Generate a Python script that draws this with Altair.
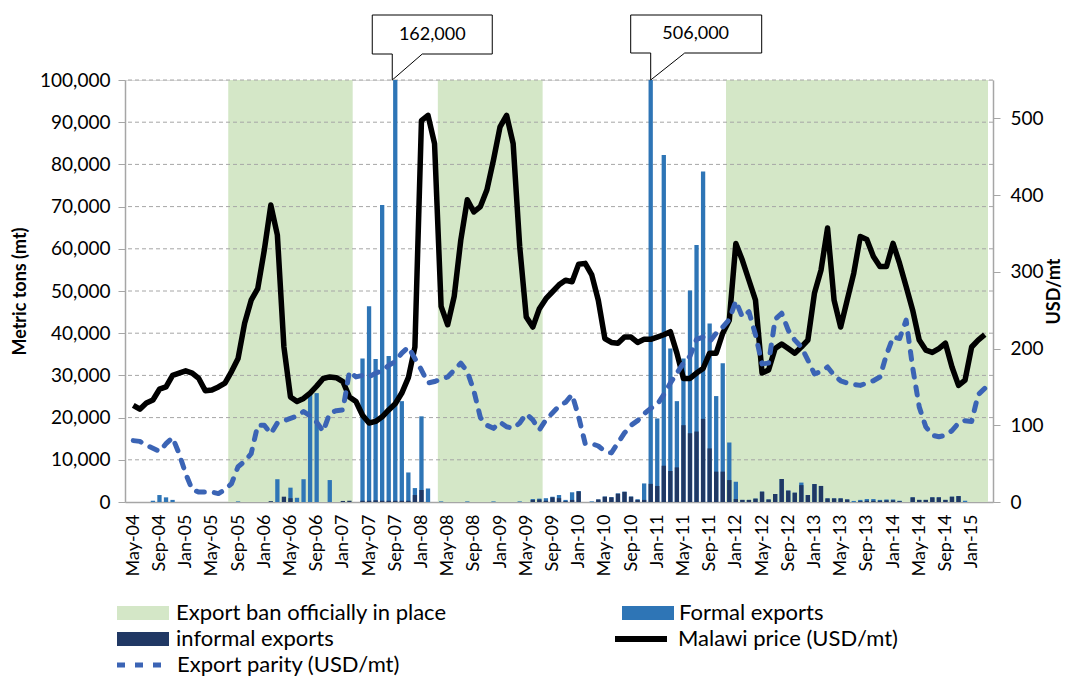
import json
import altair as alt
import pandas as pd

FONT = "Lato"
AX = "#A6A6A6"
GREEN = "#D4E7C7"
BLUE = "#2E75B6"
NAVY = "#203864"
PAR = "#3B64B5"

# ---------------- data ----------------
months = pd.date_range("2004-05-01", periods=131, freq="MS").strftime("%b-%y").tolist()

tick_labels = ["May-04", "Sep-04", "Jan-05", "May-05", "Sep-05", "Jan-06", "May-06", "Sep-06",
               "Jan-07", "May-07", "Sep-07", "Jan-08", "May-08", "Sep-08", "Jan-09", "May-09",
               "Sep-09", "Jan-10", "May-10", "Sep-10", "Jan-11", "May-11", "Sep-11", "Jan-12",
               "May-12", "Sep-12", "Jan-13", "May-13", "Sep-13", "Jan-14", "May-14", "Sep-14",
               "Jan-15"]

ban_start = ["Aug-05", "Apr-08", "Dec-11"]
ban_end = ["Feb-07", "Jul-09", "Mar-15"]

formal = [0, 0, 0, 300, 1650, 1100, 500, 0, 0, 0,
          0, 0, 0, 0, 0, 0, 150, 0, 0, 0,
          0, 0, 5400, 0, 3400, 1000, 5400, 25800, 25800, 0,
          5200, 0, 0, 0, 0, 34000, 46400, 33900, 70400, 34600,
          162000, 23900, 7000, 3300, 20300, 3200, 0, 150, 0, 0,
          0, 150, 0, 0, 0, 150, 0, 0, 0, 150,
          0, 700, 800, 900, 1250, 1650, 500, 2300, 2600, 0,
          150, 600, 1300, 1150, 2050, 2450, 1300, 650, 4400, 506000,
          19800, 82200, 36400, 23900, 34000, 50100, 60900, 78300, 42300, 25100,
          32900, 14100, 4800, 500, 500, 800, 2450, 600, 1900, 5450,
          2700, 2200, 4600, 1650, 4250, 3800, 850, 850, 850, 600,
          250, 500, 700, 700, 500, 600, 600, 300, 0, 1100,
          500, 500, 1100, 1100, 500, 1250, 1400, 300, 0, 0,
          0]

informal = [0, 0, 0, 0, 0, 0, 0, 0, 0, 0,
            0, 0, 0, 0, 0, 0, 0, 0, 0, 0,
            0, 200, 0, 1260, 900, 0, 0, 0, 0, 0,
            0, 0, 250, 300, 0, 300, 300, 400, 300, 300,
            300, 300, 300, 1650, 2850, 0, 0, 0, 0, 0,
            0, 0, 0, 0, 0, 0, 0, 0, 0, 0,
            0, 500, 600, 300, 1100, 900, 200, 500, 2500, 0,
            0, 600, 1250, 1100, 1950, 2400, 1250, 500, 500, 4300,
            3800, 8600, 7350, 8200, 18200, 16300, 16700, 19700, 12700, 7200,
            7200, 5200, 700, 500, 500, 800, 2450, 600, 1900, 5450,
            2700, 2200, 4000, 1650, 4250, 3800, 850, 850, 850, 600,
            0, 200, 300, 300, 300, 400, 400, 200, 0, 1100,
            500, 500, 1100, 1100, 500, 1250, 1400, 0, 0, 0,
            0]

price = [126, 121, 129, 133, 147, 150, 165, 168, 171, 168,
         161, 145, 146, 150, 155, 170, 187, 233, 263, 278,
         328, 387, 348, 202, 137, 131, 135, 142, 151, 161,
         163, 162, 157, 137, 131, 113, 103, 105, 111, 120,
         128, 142, 162, 202, 497, 504, 467, 255, 231, 268,
         341, 394, 378, 385, 407, 446, 489, 504, 467, 333,
         241, 228, 252, 265, 274, 283, 289, 287, 310, 311,
         296, 263, 213, 208, 207, 215, 215, 208, 212, 212,
         215, 218, 222, 194, 161, 161, 168, 174, 194, 194,
         220, 237, 337, 315, 289, 263, 168, 172, 200, 206,
         200, 194, 202, 211, 272, 302, 357, 263, 228, 263,
         298, 346, 342, 320, 307, 307, 337, 311, 281, 250,
         211, 198, 195, 200, 207, 176, 152, 159, 202, 211,
         218]

parity = [80, 79, 74, 70, 66, 76, 84, 63, 37, 16,
          13, 13, 13, 11, 16, 24, 46, 53, 63, 100,
          100, 89, 103, 106, 109, 112, 118, 112, 104, 92,
          116, 119, 120, 170, 163, 165, 163, 168, 171, 178,
          183, 194, 202, 187, 172, 155, 157, 160, 163, 172,
          181, 170, 145, 110, 100, 96, 104, 98, 96, 103,
          115, 107, 94, 107, 116, 125, 130, 140, 111, 76,
          76, 73, 66, 64, 77, 90, 100, 106, 115, 122,
          127, 140, 155, 168, 181, 190, 212, 215, 209, 220,
          228, 238, 262, 241, 248, 218, 180, 181, 238, 246,
          224, 211, 202, 185, 167, 170, 176, 165, 158, 155,
          153, 152, 155, 158, 163, 192, 215, 213, 237, 175,
          124, 98, 87, 85, 87, 93, 103, 106, 105, 140,
          148]

callout_idx = [40, 79]
callout_val = [162000, 506000]
callout_txt = ["162,000", "506,000"]

grid_vals = list(range(10000, 100001, 10000))

S_BAN = "Export ban officially in place"
S_FORMAL = "Formal exports"
S_INFORMAL = "informal exports"
S_PRICE = "Malawi price (USD/mt)"
S_PARITY = "Export parity (USD/mt)"

# ---------------- tables ----------------
df = pd.DataFrame({"idx": list(range(len(months))), "month": months,
                   "formal": formal, "informal": informal,
                   "price": price, "parity": parity})
bands = pd.DataFrame({"x0": [months.index(s) - 0.5 for s in ban_start],
                      "x1": [months.index(e) + 0.5 for e in ban_end],
                      "top": [100000] * 3, "bottom": [0] * 3,
                      "series": [S_BAN] * 3})
grid = pd.DataFrame({"g": grid_vals})
callouts = pd.DataFrame({"idx": callout_idx, "val": callout_val, "txt": callout_txt})

# ---------------- scales / axes ----------------
xsc = alt.Scale(domain=[-0.5, 130.5], nice=False, zero=False)
xaxis = alt.Axis(values=list(range(0, 129, 4)),
                 labelExpr=json.dumps(tick_labels) + "[round(datum.value/4)]",
                 labelAngle=-90, labelFont=FONT, labelFontSize=18, labelColor="black",
                 labelPadding=12, ticks=False, domainColor=AX, domainWidth=1.5, grid=False,
                 labelOverlap=False, labelFlush=False, title=None)
ylsc = alt.Scale(domain=[0, 100000], nice=False, zero=True, clamp=True)
ylaxis = alt.Axis(orient="left", values=list(range(0, 100001, 10000)), format=",d",
                  labelFont=FONT, labelFontSize=19, labelColor="black", labelPadding=8,
                  tickSize=7, tickColor=AX, domainColor=AX, domainWidth=1.5, grid=False,
                  title="Metric tons (mt)", titleFont=FONT, titleFontSize=18,
                  titleFontWeight="bold", titleColor="black", titlePadding=10)
yrsc = alt.Scale(domain=[0, 550], nice=False, zero=True)
yraxis = alt.Axis(orient="right", values=[0, 100, 200, 300, 400, 500],
                  labelFont=FONT, labelFontSize=19, labelColor="black", labelPadding=10,
                  tickSize=7, tickColor=AX, domainColor=AX, domainWidth=1.5, grid=False,
                  title="USD/mt", titleAngle=270, titleBaseline="top", titleFont=FONT,
                  titleFontSize=18, titleFontWeight="bold", titleColor="black",
                  titlePadding=2)


def XE(f):
    return alt.X(f, type="quantitative", scale=xsc, axis=xaxis)


def YL(f):
    return alt.Y(f, type="quantitative", scale=ylsc, axis=ylaxis, stack=None)


def YR(f):
    return alt.Y(f, type="quantitative", scale=yrsc, axis=yraxis)


# legend symbols: size 196 -> unit = 7px, so a 52x14 swatch / 52px line
RECT = "M-3.714,-1H3.714V1H-3.714Z"
LINE = "M-3.714,0H3.714"
leg_common = dict(orient="none", title=None, labelFont=FONT, labelFontSize=22,
                  labelColor="black", labelLimit=500, padding=0,
                  rowPadding=4, direction="vertical", symbolSize=196)

fill_legend = alt.Legend(legendX=7, legendY=522, symbolType=RECT, labelOffset=22,
                         symbolStrokeWidth=0, symbolOpacity=1, **leg_common)
color_legend = alt.Legend(legendX=512, legendY=522, symbolType=RECT, labelOffset=20,
                          symbolStrokeWidth=0, symbolOpacity=1, **leg_common)
stroke_legend = alt.Legend(legendX=505, legendY=548, symbolType=LINE, labelOffset=26,
                           symbolStrokeWidth=6, symbolStrokeColor="black", **leg_common)
dash_legend = alt.Legend(legendX=7, legendY=574, symbolType=LINE, labelOffset=23,
                         symbolStrokeWidth=5, symbolStrokeColor=PAR, **leg_common)

fillsc = alt.Scale(domain=[S_BAN, S_INFORMAL], range=[GREEN, NAVY])
colorsc = alt.Scale(domain=[S_FORMAL], range=[BLUE])
strokesc = alt.Scale(domain=[S_PRICE], range=["black"])
dashsc = alt.Scale(domain=[S_PARITY], range=[[8, 10]])

# ---------------- layers ----------------
ban_layer = alt.Chart(bands).mark_rect().encode(
    x=XE("x0"), x2="x1", y=YL("top"), y2="bottom",
    fill=alt.Fill("series:N", scale=fillsc, legend=fill_legend))

grid_layer = alt.Chart(grid).mark_rule(color=AX, strokeDash=[4, 3], strokeWidth=1).encode(
    y=YL("g"))

formal_layer = alt.Chart(df).transform_calculate(series=f"'{S_FORMAL}'").mark_bar(
    size=4.3, orient="vertical").encode(
    x=XE("idx"), y=YL("formal"),
    color=alt.Color("series:N", scale=colorsc, legend=color_legend))

informal_layer = alt.Chart(df).transform_calculate(series=f"'{S_INFORMAL}'").mark_bar(
    size=4.3, orient="vertical").encode(
    x=XE("idx"), y=YL("informal"),
    fill=alt.Fill("series:N", scale=fillsc, legend=fill_legend))

BOX1 = "M-23,-65H97V-26H27L-3,0V-26H-23Z"
BOX2 = "M-20,-65H111V-27H34L0,0V-27H-20Z"
callout_box = alt.Chart(callouts).mark_point(
    size=4, filled=True, fill="white", stroke="black",
    strokeWidth=1, opacity=1).encode(
    x=XE("idx"), y=YL("val"),
    shape=alt.Shape("txt:N", scale=alt.Scale(domain=callout_txt, range=[BOX1, BOX2]),
                    legend=None))
callout_label1 = alt.Chart(callouts).transform_filter(
    alt.datum.idx == callout_idx[0]).mark_text(
    dx=37, dy=-45, align="center", baseline="middle", font=FONT, fontSize=18,
    color="black").encode(x=XE("idx"), y=YL("val"), text="txt:N")
callout_label2 = alt.Chart(callouts).transform_filter(
    alt.datum.idx == callout_idx[1]).mark_text(
    dx=45, dy=-46, align="center", baseline="middle", font=FONT, fontSize=18,
    color="black").encode(x=XE("idx"), y=YL("val"), text="txt:N")

price_layer = alt.Chart(df).transform_calculate(series=f"'{S_PRICE}'").mark_line(
    strokeWidth=5.5, strokeJoin="round").encode(
    x=XE("idx"), y=YR("price"),
    stroke=alt.Stroke("series:N", scale=strokesc, legend=stroke_legend))

parity_layer = alt.Chart(df).transform_calculate(series=f"'{S_PARITY}'").mark_line(
    stroke=PAR, strokeWidth=5, strokeCap="round", strokeJoin="round").encode(
    x=XE("idx"), y=YR("parity"),
    strokeDash=alt.StrokeDash("series:N", scale=dashsc, legend=dash_legend))

left = alt.layer(ban_layer, grid_layer, formal_layer, informal_layer,
                 callout_box, callout_label1, callout_label2)
right = alt.layer(price_layer, parity_layer)

chart = alt.layer(left, right).resolve_scale(y="independent").properties(
    width=868, height=422,
    autosize=alt.AutoSizeParams(type="none"),
    padding={"left": 117, "top": 72, "right": 71, "bottom": 174},
).configure_view(stroke=None).configure(font=FONT, background="white")

chart.save("out.html", embed_options={"renderer": "svg", "actions": False})
